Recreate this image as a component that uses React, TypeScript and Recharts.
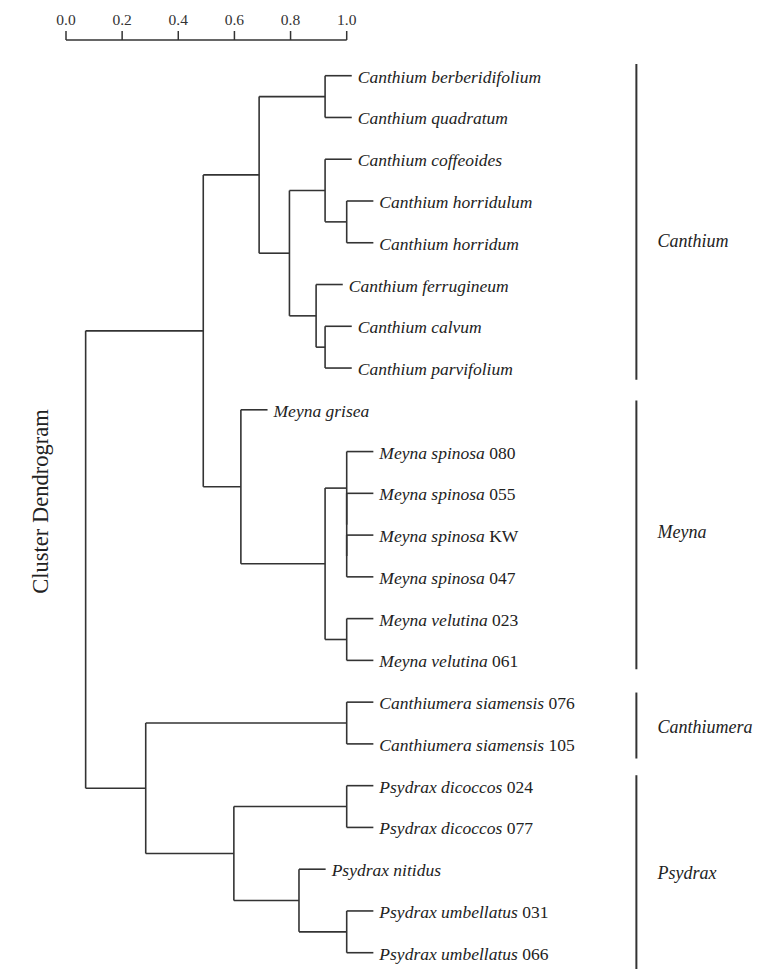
import { ComposedChart, XAxis, YAxis, ReferenceLine, ReferenceDot, Scatter } from "recharts"

const FONT = '"Liberation Serif", "Times New Roman", serif'
const INK = "#333"

// leaves, top to bottom
const leafNames = [
  "Canthium berberidifolium",
  "Canthium quadratum",
  "Canthium coffeoides",
  "Canthium horridulum",
  "Canthium horridum",
  "Canthium ferrugineum",
  "Canthium calvum",
  "Canthium parvifolium",
  "Meyna grisea",
  "Meyna spinosa",
  "Meyna spinosa",
  "Meyna spinosa",
  "Meyna spinosa",
  "Meyna velutina",
  "Meyna velutina",
  "Canthiumera siamensis",
  "Canthiumera siamensis",
  "Psydrax dicoccos",
  "Psydrax dicoccos",
  "Psydrax nitidus",
  "Psydrax umbellatus",
  "Psydrax umbellatus",
]
const leafCodes = [
  "", "", "", "", "", "", "", "",
  "", "080", "055", "KW", "047", "023", "061",
  "076", "105", "024", "077", "", "031", "066",
]

// hclust-style merges: negative = leaf (1-based), positive = earlier merge (1-based), then height
const merges: [number, number, number][] = [
  [-1, -2, 0.923],
  [-4, -5, 1.0],
  [-3, 2, 0.923],
  [-7, -8, 0.923],
  [-6, 4, 0.891],
  [3, 5, 0.796],
  [1, 6, 0.688],
  [-12, -13, 1.0],
  [-11, 8, 1.0],
  [-10, 9, 1.0],
  [-14, -15, 1.0],
  [10, 11, 0.923],
  [-9, 12, 0.623],
  [7, 13, 0.489],
  [-16, -17, 1.0],
  [-18, -19, 1.0],
  [-21, -22, 1.0],
  [-20, 17, 0.83],
  [16, 18, 0.598],
  [15, 19, 0.284],
  [14, 20, 0.07],
]
const hang = 0.095

const xTicks = [0, 0.2, 0.4, 0.6, 0.8, 1.0]

const groupNames = ["Canthium", "Meyna", "Canthiumera", "Psydrax"]
const groupFrom = [-0.28, 7.78, 14.77, 16.75]
const groupTo = [7.28, 14.21, 16.35, 21.6]
const groupLabelRow = [3.92, 10.9, 15.56, 19.06]
const groupBarX = 2.032
const groupLabelX = 2.107

type Seg = [{ x: number; y: number }, { x: number; y: number }]

function layoutTree() {
  const nodeRow: number[] = []
  const segs: Seg[] = []
  const leafEnd: number[] = []
  const pos = (id: number) =>
    id < 0 ? { row: -id - 1, h: null as number | null } : { row: nodeRow[id - 1], h: merges[id - 1][2] }
  merges.forEach(([a, b, h], i) => {
    const A = pos(a)
    const B = pos(b)
    nodeRow[i] = (A.row + B.row) / 2
    segs.push([{ x: h, y: A.row }, { x: h, y: B.row }])
    ;([[a, A], [b, B]] as [number, { row: number; h: number | null }][]).forEach(([id, c]) => {
      const end = c.h === null ? h + hang : c.h
      segs.push([{ x: h, y: c.row }, { x: end, y: c.row }])
      if (c.h === null) leafEnd[-id - 1] = end
    })
  })
  const nodes = merges.map((m, i) => ({ x: m[2], y: nodeRow[i] }))
  return { segs, leafEnd, nodes }
}

const { segs, leafEnd, nodes } = layoutTree()

const LeafLabel = (name: string, code: string) => (p: any) => (
  <text x={p.cx + 6} y={p.cy} dy="0.4em" fontFamily={FONT} fontSize={17.5} fill="#222">
    <tspan fontStyle="italic">{name}</tspan>
    {code ? <tspan> {code}</tspan> : null}
  </text>
)

const GroupLabel = (name: string) => (p: any) => (
  <text x={p.cx} y={p.cy} dy="0.4em" fontFamily={FONT} fontSize={18} fontStyle="italic" fill="#222">
    {name}
  </text>
)

const TitleLabel = (props: any) => {
  const vb = props.viewBox || { x: 0, y: 40, width: 66, height: 929 }
  const cx = vb.x + 40
  const cy = vb.y + vb.height / 2 - 3
  return (
    <text
      x={cx}
      y={cy}
      transform={`rotate(-90, ${cx}, ${cy})`}
      textAnchor="middle"
      dominantBaseline="central"
      fontFamily={FONT}
      fontSize={22.5}
      fill="#222"
    >
      Cluster Dendrogram
    </text>
  )
}

export default function App() {
  return (
    <div style={{ position: "fixed", top: 0, left: 0, background: "#fff" }}>
      <ComposedChart
        width={762}
        height={969}
        data={nodes}
        margin={{ top: 10, right: 415.3, bottom: 0, left: 0 }}
      >
        <XAxis
          dataKey="x"
          type="number"
          orientation="top"
          domain={[0, 1]}
          ticks={xTicks}
          allowDataOverflow
          height={30}
          tickSize={9}
          tickMargin={6}
          stroke={INK}
          strokeWidth={1.5}
          tickFormatter={(v: number) => v.toFixed(1)}
          tick={{ fill: INK, fontSize: 15.5, fontFamily: FONT }}
        />
        <YAxis
          dataKey="y"
          type="number"
          reversed
          domain={[-0.855, 21.39]}
          allowDataOverflow
          width={66}
          tick={false}
          tickLine={false}
          axisLine={false}
          label={{ content: TitleLabel }}
        />
        <Scatter data={nodes} dataKey="y" shape={() => null} isAnimationActive={false} />
        {segs.map((s, i) => (
          <ReferenceLine
            key={`b${i}`}
            segment={s}
            ifOverflow="visible"
            stroke={INK}
            strokeWidth={1.6}
          />
        ))}
        {leafNames.map((name, i) => (
          <ReferenceDot
            key={`l${i}`}
            x={leafEnd[i]}
            y={i}
            r={0}
            ifOverflow="visible"
            shape={LeafLabel(name, leafCodes[i])}
          />
        ))}
        {groupNames.map((g, i) => (
          <ReferenceLine
            key={`g${i}`}
            segment={[
              { x: groupBarX, y: groupFrom[i] },
              { x: groupBarX, y: groupTo[i] },
            ]}
            ifOverflow="visible"
            stroke={INK}
            strokeWidth={2}
          />
        ))}
        {groupNames.map((g, i) => (
          <ReferenceDot
            key={`gl${i}`}
            x={groupLabelX}
            y={groupLabelRow[i]}
            r={0}
            ifOverflow="visible"
            shape={GroupLabel(g)}
          />
        ))}
      </ComposedChart>
    </div>
  )
}
